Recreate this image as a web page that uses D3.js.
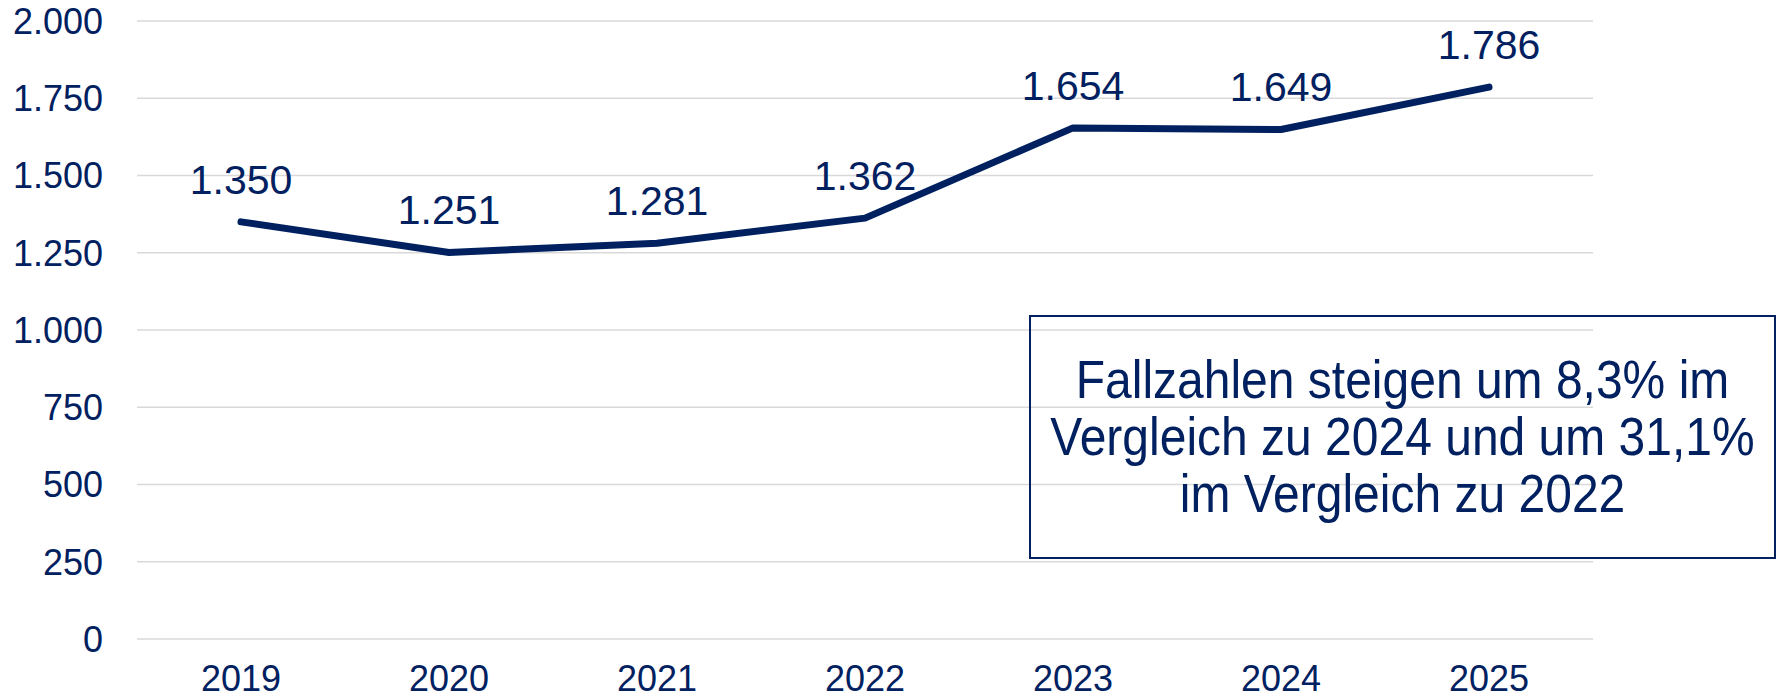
<!DOCTYPE html>
<head>
    <meta charset="utf-8">
    <style>
        body { margin: 0; background: #fff; }
        text { font-family: "Liberation Sans", Arial, sans-serif; fill: #002060; }
        .grid line { stroke: #d9d9d9; stroke-width: 1.5; }
    </style>
</head>
<body>
    <svg width="1777" height="698"></svg>
    <script src="https://d3js.org/d3.v7.min.js"></script>
    <script>
    var years = ["2019", "2020", "2021", "2022", "2023", "2024", "2025"];
    var cases = [1350, 1251, 1281, 1362, 1654, 1649, 1786];
    var yTicks = [0, 250, 500, 750, 1000, 1250, 1500, 1750, 2000];
    var noteLines = [
        "Fallzahlen steigen um 8,3% im",
        "Vergleich zu 2024 und um 31,1%",
        "im Vergleich zu 2022"
    ];

    var svg = d3.select("svg");
    var navy = "#002060";

    var x = d3.scaleBand().domain(years).range([137, 1593]);
    var y = d3.scaleLinear().domain([0, 2000]).range([639, 21]);
    var fmt = function(v) { return d3.format(",")(v).replace(/,/g, "."); };

    // gridlines
    svg.append("g").attr("class", "grid")
        .selectAll("line").data(yTicks).enter().append("line")
        .attr("x1", x.range()[0]).attr("x2", x.range()[1])
        .attr("y1", function(d) { return y(d); })
        .attr("y2", function(d) { return y(d); });

    // y axis labels
    svg.append("g").selectAll("text").data(yTicks).enter().append("text")
        .attr("x", 103)
        .attr("y", function(d) { return y(d); })
        .attr("dy", "0.36em")
        .attr("text-anchor", "end")
        .style("font-size", "36px")
        .text(fmt);

    // x axis labels (sit right at the bottom edge, like the original)
    svg.append("g").selectAll("text").data(years).enter().append("text")
        .attr("x", function(d) { return x(d) + x.bandwidth() / 2; })
        .attr("y", 691)
        .attr("text-anchor", "middle")
        .style("font-size", "36px")
        .text(function(d) { return d; });

    var line = d3.line()
        .x(function(d, i) { return x(years[i]) + x.bandwidth() / 2; })
        .y(function(d) { return y(d); });

    svg.append("path")
        .datum(cases)
        .attr("d", line)
        .attr("fill", "none")
        .attr("stroke", navy)
        .attr("stroke-width", 7)
        .attr("stroke-linecap", "round")
        .attr("stroke-linejoin", "round");

    // data labels
    svg.append("g").selectAll("text").data(cases).enter().append("text")
        .attr("x", function(d, i) { return x(years[i]) + x.bandwidth() / 2; })
        .attr("y", function(d) { return y(d) - 28; })
        .attr("text-anchor", "middle")
        .style("font-size", "41px")
        .text(fmt);

    // note box
    var box = { x: 1030, y: 316, w: 745, h: 242 };
    svg.append("rect")
        .attr("x", box.x).attr("y", box.y)
        .attr("width", box.w).attr("height", box.h)
        .attr("fill", "none")
        .attr("stroke", navy)
        .attr("stroke-width", 2);

    svg.append("g").selectAll("text").data(noteLines).enter().append("text")
        .attr("transform", function(d, i) {
            return "translate(" + (box.x + box.w / 2) + "," + (398 + i * 57) + ") scale(1,1.12)";
        })
        .attr("text-anchor", "middle")
        .style("font-size", "48px")
        .text(function(d) { return d; });
    </script>
</body>
